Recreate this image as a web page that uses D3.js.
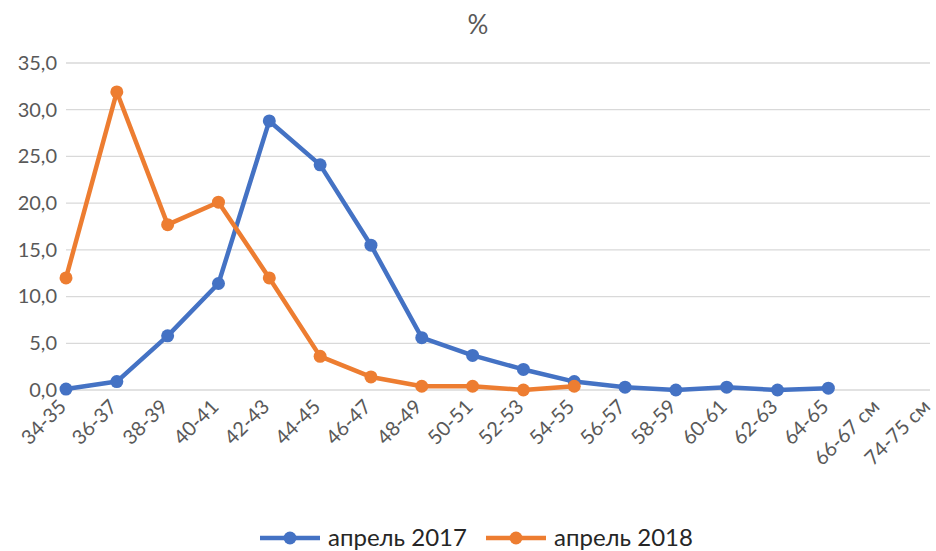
<!DOCTYPE html>
<html>
<head>
<meta charset="utf-8">
<script src="https://cdn.jsdelivr.net/npm/d3@7"></script>
<style>
  body { margin: 0; background: #fff; }
  svg text { font-family: Lato, "Open Sans", sans-serif; }
</style>
</head>
<body>
<div id="chart"></div>
<script>
/* line chart: distribution by size, % */

var categories = ["34-35", "36-37", "38-39", "40-41", "42-43", "44-45", "46-47", "48-49",
	"50-51", "52-53", "54-55", "56-57", "58-59", "60-61", "62-63", "64-65", "66-67 см", "74-75 см"];
var april2017 = [0.1, 0.9, 5.8, 11.4, 28.8, 24.1, 15.5, 5.6, 3.7, 2.2, 0.9, 0.3, 0.0, 0.3, 0.0, 0.2, null, null];
var april2018 = [12.0, 31.9, 17.7, 20.1, 12.0, 3.6, 1.4, 0.4, 0.4, 0.0, 0.4, null, null, null, null, null, null, null];
var yTicks = [0, 5, 10, 15, 20, 25, 30, 35];
var seriesNames = ["апрель 2017", "апрель 2018"];
var seriesColors = ["#4472C4", "#ED7D31"];

var width = 936, height = 551;
var margin = {top: 63, right: 6, bottom: 161, left: 66};

var svg = d3.select("#chart").append("svg")
	.attr("width", width)
	.attr("height", height);

// scales
var x = d3.scalePoint()
	.domain(categories)
	.range([margin.left, width - margin.right]);

var y = d3.scaleLinear()
	.domain([0, 35])
	.range([height - margin.bottom, margin.top]);

// title
svg.append("text")
	.attr("x", 478)
	.attr("y", 34)
	.attr("text-anchor", "middle")
	.style("font-size", "26px")
	.style("fill", "#595959")
	.text("%");

// gridlines
svg.append("g")
	.selectAll("line")
	.data(yTicks)
	.enter()
	.append("line")
	.attr("x1", margin.left)
	.attr("x2", width - margin.right)
	.attr("y1", d => y(d))
	.attr("y2", d => y(d))
	.style("stroke", "#D9D9D9")
	.style("stroke-width", 1.3);

// y axis labels
var yAxis = svg.append("g")
	.attr("transform", `translate(${margin.left},0)`)
	.call(d3.axisLeft(y).tickValues(yTicks).tickSize(0).tickPadding(9)
		.tickFormat(d => d3.format(".1f")(d).replace(".", ",")));
yAxis.select(".domain").remove();
yAxis.selectAll("text")
	.style("font-size", "20px")
	.style("fill", "#595959");

// x axis labels
var xAxis = svg.append("g")
	.attr("transform", `translate(0,${height - margin.bottom})`)
	.call(d3.axisBottom(x).tickSize(0).tickPadding(0));
xAxis.select(".domain").remove();
xAxis.selectAll("text")
	.style("font-size", "20px")
	.style("fill", "#595959")
	.attr("text-anchor", "end")
	.attr("dy", null)
	.attr("y", 0)
	.attr("transform", "translate(1,18) rotate(-45)");

// lines and markers
var line = d3.line()
	.defined(d => d.v != null)
	.x(d => x(d.c))
	.y(d => y(d.v));

[april2017, april2018].forEach(function(values, s){
	var pts = values.map((v, i) => ({c: categories[i], v: v}));
	svg.append("path")
		.datum(pts)
		.attr("d", line)
		.style("fill", "none")
		.style("stroke", seriesColors[s])
		.style("stroke-width", 4.5)
		.style("stroke-linejoin", "round")
		.style("stroke-linecap", "round");
	svg.append("g")
		.selectAll("circle")
		.data(pts.filter(d => d.v != null))
		.enter()
		.append("circle")
		.attr("cx", d => x(d.c))
		.attr("cy", d => y(d.v))
		.attr("r", 6.5)
		.style("fill", seriesColors[s]);
});

// legend
var legendX = [260, 486];
var legend = svg.append("g")
	.selectAll("g")
	.data(seriesNames)
	.enter()
	.append("g")
	.attr("transform", (d, i) => `translate(${legendX[i]},538)`);
legend.append("line")
	.attr("x1", 0).attr("x2", 60)
	.style("stroke", (d, i) => seriesColors[i])
	.style("stroke-width", 4.5);
legend.append("circle")
	.attr("cx", 30)
	.attr("r", 6.5)
	.style("fill", (d, i) => seriesColors[i]);
legend.append("text")
	.attr("x", 68)
	.attr("dy", "0.35em")
	.style("font-size", "24px")
	.style("fill", "#262626")
	.text(d => d);
</script>
</body>
</html>
